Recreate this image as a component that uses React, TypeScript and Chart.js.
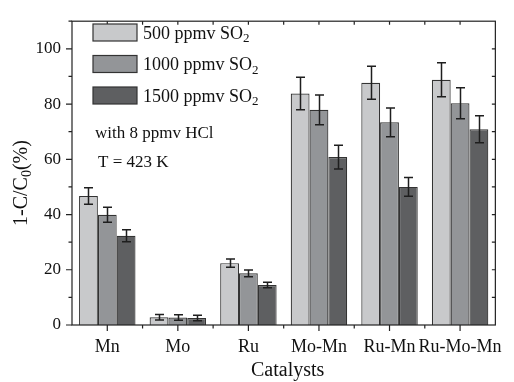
import React, { useEffect, useRef } from "react";
import { Chart, registerables } from "chart.js";

Chart.register(...registerables);

const categories = ["Mn", "Mo", "Ru", "Mo-Mn", "Ru-Mn", "Ru-Mo-Mn"];
const so2_500 = [46.7, 2.8, 22.4, 83.8, 87.7, 88.8];
const so2_1000 = [39.9, 2.7, 18.7, 77.9, 73.4, 80.3];
const so2_1500 = [32.3, 2.5, 14.5, 60.8, 50.0, 70.9];
const err_500 = [3.0, 1.0, 1.5, 5.9, 6.0, 6.2];
const err_1000 = [2.7, 1.0, 1.2, 5.4, 5.2, 5.6];
const err_1500 = [2.2, 1.0, 1.0, 4.3, 3.4, 4.9];
const seriesMain = ["500 ppmv SO", "1000 ppmv SO", "1500 ppmv SO"];
const seriesSub = ["2", "2", "2"];
const seriesColors = ["#c8c9cb", "#939598", "#5e5f61"];
const yTickValues = [0, 20, 40, 60, 80, 100];
const noteLines = ["with 8 ppmv HCl", "T = 423 K"];
const xTitle = "Catalysts";
const yTitleMain = "1-C/C";
const yTitleSub = "0";
const yTitleEnd = "(%)";

const FONT = "'Liberation Serif', 'Times New Roman', serif";
const errors = [err_500, err_1000, err_1500];

const decor = {
  id: "decor",
  afterDatasetsDraw(chart: any) {
    const ctx = chart.ctx;
    const { left, right, top, bottom } = chart.chartArea;
    const ys = chart.scales.y;
    const xs = chart.scales.x;
    ctx.save();

    // error bars
    ctx.strokeStyle = "#1e1e1e";
    ctx.lineWidth = 1.5;
    errors.forEach((errs, di) => {
      const meta = chart.getDatasetMeta(di);
      meta.data.forEach((bar: any, i: number) => {
        const v = chart.data.datasets[di].data[i] as number;
        const cx = Math.round(bar.x) + 0.5;
        const y1 = ys.getPixelForValue(v + errs[i]);
        const y2 = ys.getPixelForValue(v - errs[i]);
        ctx.beginPath();
        ctx.moveTo(cx, y1);
        ctx.lineTo(cx, y2);
        ctx.moveTo(cx - 4.5, y1);
        ctx.lineTo(cx + 4.5, y1);
        ctx.moveTo(cx - 4.5, y2);
        ctx.lineTo(cx + 4.5, y2);
        ctx.stroke();
      });
    });

    // frame
    ctx.strokeStyle = "#222";
    ctx.lineWidth = 1.2;
    ctx.strokeRect(left, top, right - left, bottom - top);

    // y ticks
    ctx.beginPath();
    for (let v = 0; v <= 110; v += 10) {
      const py = ys.getPixelForValue(v);
      const major = v % 20 === 0 && v <= 100;
      ctx.moveTo(left, py);
      ctx.lineTo(left - (major ? 6 : 3.5), py);
      if (v > 0 && v < 110) {
        ctx.moveTo(right, py);
        ctx.lineTo(right - 3.5, py);
      }
    }
    // x ticks
    const n = categories.length;
    for (let i = 0; i < n; i++) {
      const cxp = xs.getPixelForValue(i);
      ctx.moveTo(cxp, bottom);
      ctx.lineTo(cxp, bottom + 6);
      ctx.moveTo(cxp, top);
      ctx.lineTo(cxp, top + 3.5);
      if (i < n - 1) {
        const bx = (cxp + xs.getPixelForValue(i + 1)) / 2;
        ctx.moveTo(bx, bottom);
        ctx.lineTo(bx, bottom + 3.5);
        ctx.moveTo(bx, top);
        ctx.lineTo(bx, top + 3.5);
      }
    }
    ctx.stroke();

    // legend
    const boxX = 93, boxW = 44, boxH = 17;
    const rowTops = [24, 55.5, 87];
    seriesMain.forEach((lab, i) => {
      ctx.fillStyle = seriesColors[i];
      ctx.fillRect(boxX, rowTops[i], boxW, boxH);
      ctx.strokeStyle = "#333";
      ctx.lineWidth = 1.2;
      ctx.strokeRect(boxX, rowTops[i], boxW, boxH);
      ctx.fillStyle = "#111";
      ctx.font = `18px ${FONT}`;
      ctx.textBaseline = "alphabetic";
      ctx.textAlign = "left";
      const base = rowTops[i] + boxH / 2 + 6;
      ctx.fillText(lab, 143, base);
      const w = ctx.measureText(lab).width;
      ctx.font = `13px ${FONT}`;
      ctx.fillText(seriesSub[i], 143 + w, base + 3.5);
    });

    ctx.font = `17px ${FONT}`;
    ctx.fillStyle = "#111";
    ctx.textBaseline = "middle";
    ctx.fillText(noteLines[0], 95, 134);
    ctx.fillText(noteLines[1], 98, 163);

    // x title
    ctx.font = `20px ${FONT}`;
    ctx.textAlign = "center";
    ctx.fillText(xTitle, (left + right) / 2 + 4, 371);

    // y title
    ctx.translate(20, 183);
    ctx.rotate(-Math.PI / 2);
    ctx.textAlign = "left";
    ctx.textBaseline = "alphabetic";
    ctx.font = `20px ${FONT}`;
    const w1 = ctx.measureText(yTitleMain).width;
    const w3 = ctx.measureText(yTitleEnd).width;
    ctx.font = `14px ${FONT}`;
    const w2 = ctx.measureText(yTitleSub).width;
    const total = w1 + w2 + w3;
    let sx = -total / 2;
    ctx.font = `20px ${FONT}`;
    ctx.fillText(yTitleMain, sx, 7);
    sx += w1;
    ctx.font = `14px ${FONT}`;
    ctx.fillText(yTitleSub, sx, 11);
    sx += w2;
    ctx.font = `20px ${FONT}`;
    ctx.fillText(yTitleEnd, sx, 7);

    ctx.restore();
  },
};

export default function App() {
  const ref = useRef<HTMLCanvasElement>(null);
  useEffect(() => {
    if (!ref.current) return;
    const chart = new Chart(ref.current, {
      type: "bar",
      data: {
        labels: categories,
        datasets: [so2_500, so2_1000, so2_1500].map((d, i) => ({
          label: seriesMain[i] + seriesSub[i],
          data: d,
          backgroundColor: seriesColors[i],
          borderColor: "#333",
          borderWidth: 1.2,
          barPercentage: 1,
          categoryPercentage: 0.8,
        })),
      },
      options: {
        responsive: false,
        animation: false,
        layout: { padding: { left: 0, right: 17, top: 11, bottom: 0 } },
        plugins: { legend: { display: false }, tooltip: { enabled: false } },
        scales: {
          x: {
            grid: { display: false, drawTicks: false },
            border: { display: false },
            ticks: { color: "#111", font: { family: FONT, size: 18 }, padding: 11, maxRotation: 0, autoSkip: false },
            afterFit: (s: any) => { s.height = 57; },
          },
          y: {
            min: 0,
            max: 110,
            grid: { display: false, drawTicks: false },
            border: { display: false },
            ticks: { color: "#111", font: { family: FONT, size: 17 }, padding: 11, stepSize: 20 },
            afterBuildTicks: (s: any) => { s.ticks = yTickValues.map((v) => ({ value: v })); },
            afterFit: (s: any) => { s.width = 72; },
          },
        },
      },
      plugins: [decor],
    });
    return () => chart.destroy();
  }, []);
  return (
    <div style={{ position: "absolute", left: 0, top: 0, width: 514, height: 382, background: "#fff" }}>
      <canvas ref={ref} width={514} height={382} style={{ display: "block" }} />
    </div>
  );
}
